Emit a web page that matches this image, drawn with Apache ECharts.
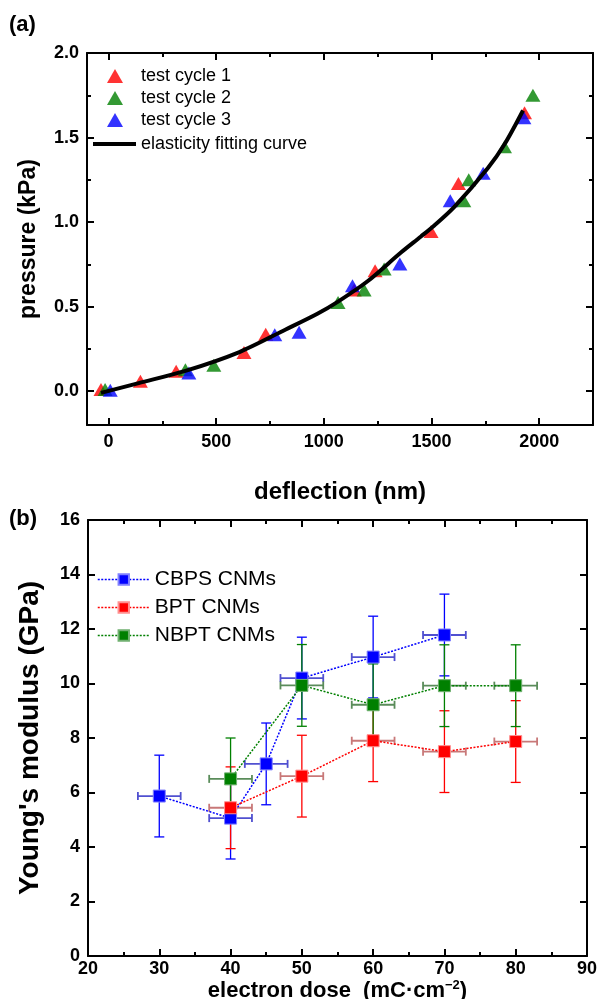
<!DOCTYPE html>
<html><head><meta charset="utf-8">
<script src="https://cdn.jsdelivr.net/npm/echarts@6/dist/echarts.min.js"></script>
<style>html,body{margin:0;padding:0;background:#fff}#c{width:597px;height:999px}</style>
</head><body><div id="c"></div>
<script>
// ---------- Panel (a) data ----------
const cycle1X = [-35, 148, 314, 629, 730, 1141, 1238, 1498, 1625, 1932];
const cycle1Y = [0.01, 0.059, 0.118, 0.229, 0.337, 0.598, 0.712, 0.945, 1.228, 1.647];
const cycle2X = [-16, 357, 489, 1066, 1187, 1280, 1650, 1673, 1839, 1971];
const cycle2Y = [0.01, 0.127, 0.153, 0.525, 0.598, 0.722, 1.126, 1.25, 1.446, 1.75];
const cycle3X = [8, 373, 772, 885, 1133, 1353, 1587, 1740, 1929];
const cycle3Y = [0.006, 0.108, 0.333, 0.348, 0.624, 0.752, 1.126, 1.289, 1.617];
const fitX = [-35, 140, 357, 605, 823, 970, 1066, 1203, 1358, 1451, 1513, 1606, 1762, 1839, 1925];
const fitY = [-0.01, 0.048, 0.12, 0.23, 0.365, 0.458, 0.53, 0.65, 0.82, 0.915, 0.98, 1.09, 1.32, 1.46, 1.66];
const aXTicks = [0, 500, 1000, 1500, 2000];
const aXMinor = [250, 750, 1250, 1750];
const aYTicks = [0, 0.5, 1.0, 1.5, 2.0];
const aYMinor = [0.25, 0.75, 1.25, 1.75];

// ---------- Panel (b) data ----------
const doseCBPS = [30, 40, 45, 50, 60, 70];
const modCBPS = [5.87, 5.06, 7.05, 10.2, 10.97, 11.78];
const yErrCBPS = [1.5, 1.5, 1.5, 1.5, 1.5, 1.5];
const xErrCBPS = [3, 3, 3, 3, 3, 3];
const doseBPT = [40, 50, 60, 70, 80];
const modBPT = [5.44, 6.6, 7.9, 7.5, 7.87];
const yErrBPT = [1.5, 1.5, 1.5, 1.5, 1.5];
const xErrBPT = [3, 3, 3, 3, 3];
const doseNBPT = [40, 50, 60, 70, 80];
const modNBPT = [6.5, 9.93, 9.22, 9.92, 9.92];
const yErrNBPT = [1.5, 1.5, 1.5, 1.5, 1.5];
const xErrNBPT = [3, 3, 3, 3, 3];

const FONT = 'Liberation Sans, Arial, sans-serif';
const zip = (a, b) => a.map((v, i) => [v, b[i]]);

const lbl = {show: true, color: '#000', fontFamily: FONT, fontWeight: 'bold', fontSize: 18, margin: 8};
const line = {show: true, onZero: false, lineStyle: {color: '#000', width: 2}};
function axis(pos, gridIndex, min, max, o) {
  const base = {
    type: 'value', gridIndex, position: pos, min, max,
    splitLine: {show: false},
    axisLine: line,
    axisTick: {show: true, inside: true, length: 7, lineStyle: {color: '#000', width: 2}},
    axisLabel: {show: false}
  };
  return Object.assign(base, o || {});
}
function minorAxis(pos, gridIndex, min, max, vals) {
  return axis(pos, gridIndex, min, max, {
    axisLine: {show: false, onZero: false},
    axisTick: {show: true, inside: true, length: 4, customValues: vals, lineStyle: {color: '#000', width: 2}},
    axisLabel: {show: false}
  });
}

const xAxes = [
  axis('bottom', 0, -100, 2250, {
    axisTick: {show: true, inside: true, length: 7, customValues: aXTicks, lineStyle: {color: '#000', width: 2}},
    axisLabel: Object.assign({}, lbl, {customValues: aXTicks, formatter: v => String(v)}),
    name: 'deflection (nm)', nameLocation: 'middle', nameGap: 55,
    nameTextStyle: {fontFamily: FONT, fontWeight: 'bold', fontSize: 24, color: '#000'}
  }),
  axis('top', 0, -100, 2250, {
    axisTick: {show: true, inside: true, length: 7, customValues: aXTicks, lineStyle: {color: '#000', width: 2}}
  }),
  minorAxis('bottom', 0, -100, 2250, aXMinor),
  minorAxis('top', 0, -100, 2250, aXMinor),
  axis('bottom', 1, 20, 90, {
    interval: 10,
    minorTick: {show: true, splitNumber: 2, length: 4, lineStyle: {color: '#000', width: 2}},
    axisLabel: Object.assign({}, lbl, {margin: 4}),
    name: 'electron dose  (mC·cm{sup|−2})', nameLocation: 'middle', nameGap: 17,
    nameTextStyle: {fontFamily: FONT, fontWeight: 'bold', fontSize: 22, color: '#000', lineHeight: 24,
      rich: {sup: {fontFamily: FONT, fontWeight: 'bold', fontSize: 13, color: '#000', verticalAlign: 'top', lineHeight: 24}}}
  }),
  axis('top', 1, 20, 90, {
    interval: 10,
    minorTick: {show: true, splitNumber: 2, length: 4, lineStyle: {color: '#000', width: 2}}
  })
];
const yAxes = [
  axis('left', 0, -0.2, 2.0, {
    axisTick: {show: true, inside: true, length: 7, customValues: aYTicks, lineStyle: {color: '#000', width: 2}},
    axisLabel: Object.assign({}, lbl, {customValues: aYTicks, formatter: v => v.toFixed(1)}),
    name: 'pressure (kPa)', nameLocation: 'middle', nameGap: 47,
    nameTextStyle: {fontFamily: FONT, fontWeight: 'bold', fontSize: 23, color: '#000'}
  }),
  axis('right', 0, -0.2, 2.0, {
    axisTick: {show: true, inside: true, length: 7, customValues: aYTicks, lineStyle: {color: '#000', width: 2}}
  }),
  minorAxis('left', 0, -0.2, 2.0, aYMinor),
  minorAxis('right', 0, -0.2, 2.0, aYMinor),
  axis('left', 1, 0, 16, {
    interval: 2,
    axisLabel: lbl,
    name: "Young's modulus (GPa)", nameLocation: 'middle', nameGap: 44,
    nameTextStyle: {fontFamily: FONT, fontWeight: 'bold', fontSize: 28, color: '#000'}
  }),
  axis('right', 1, 0, 16, {interval: 2})
];

function tri(name, xs, ys, color) {
  return {type: 'scatter', name, xAxisIndex: 0, yAxisIndex: 0, data: zip(xs, ys),
    symbol: 'triangle', symbolSize: [15, 13], itemStyle: {color}, z: 3};
}
function errBars(name, xs, ys, ex, ey, color, light) {
  return {
    type: 'custom', name, xAxisIndex: 4, yAxisIndex: 4, z: 2,
    data: xs.map((x, i) => [x, ys[i], ex[i], ey[i]]),
    encode: {x: 0, y: 1},
    renderItem: (params, api) => {
      const x = api.value(0), y = api.value(1), dx = api.value(2), dy = api.value(3);
      const c = api.coord([x, y]);
      const t = api.coord([x, y + dy]), b = api.coord([x, y - dy]);
      const l = api.coord([x - dx, y]), r = api.coord([x + dx, y]);
      const sv = {stroke: color, lineWidth: 1.3};
      const sh = {stroke: light, lineWidth: 1.8};
      return {type: 'group', children: [
        {type: 'line', shape: {x1: c[0], y1: t[1], x2: c[0], y2: b[1]}, style: sv},
        {type: 'line', shape: {x1: c[0] - 5, y1: t[1], x2: c[0] + 5, y2: t[1]}, style: sv},
        {type: 'line', shape: {x1: c[0] - 5, y1: b[1], x2: c[0] + 5, y2: b[1]}, style: sv},
        {type: 'line', shape: {x1: l[0], y1: c[1], x2: r[0], y2: c[1]}, style: sh},
        {type: 'line', shape: {x1: l[0], y1: c[1] - 4, x2: l[0], y2: c[1] + 4}, style: sh},
        {type: 'line', shape: {x1: r[0], y1: c[1] - 4, x2: r[0], y2: c[1] + 4}, style: sh}
      ]};
    }
  };
}
function sq(name, xs, ys, color, border, z) {
  return {type: 'line', name, xAxisIndex: 4, yAxisIndex: 4, data: zip(xs, ys),
    symbol: 'rect', symbolSize: 12, showSymbol: true, z,
    itemStyle: {color, borderColor: border, borderWidth: 1},
    lineStyle: {color, width: 1.5, type: [2, 1.5]}};
}

const legendText = {fontFamily: FONT, fontSize: 18, lineHeight: 18, color: '#000'};
const option = {
  animation: false,
  backgroundColor: '#fff',
  title: [
    {text: '(a)', left: 9, top: 14, padding: 0, textStyle: {fontFamily: FONT, fontWeight: 'bold', fontSize: 22, color: '#000'}},
    {text: '(b)', left: 9, top: 508, padding: 0, textStyle: {fontFamily: FONT, fontWeight: 'bold', fontSize: 22, color: '#000'}}
  ],
  grid: [
    {left: 87, top: 53, width: 506, height: 372, containLabel: false, outerBoundsMode: 'none'},
    {left: 88, top: 520, width: 499, height: 436, containLabel: false, outerBoundsMode: 'none'}
  ],
  xAxis: xAxes,
  yAxis: yAxes,
  legend: [
    {data: [{name: 'test cycle 1', icon: 'triangle'}, {name: 'test cycle 2', icon: 'triangle'}, {name: 'test cycle 3', icon: 'triangle'}],
      orient: 'vertical', left: 107, top: 67,
      itemWidth: 16, itemHeight: 14, itemGap: 4, padding: 0,
      textStyle: Object.assign({}, legendText, {padding: [0, 0, 0, 13]})},
    {data: [{name: 'elasticity fitting curve', icon: 'rect'}], orient: 'vertical', left: 93, top: 135,
      itemWidth: 43, itemHeight: 4, padding: 0, itemStyle: {color: '#000'},
      textStyle: legendText},
    {data: ['CBPS CNMs', 'BPT CNMs', 'NBPT CNMs'], orient: 'vertical', left: 97, top: 569,
      itemWidth: 52, itemHeight: 13, itemGap: 7, padding: 0,
      lineStyle: {width: 1.5},
      textStyle: {fontFamily: FONT, fontSize: 21, lineHeight: 21, color: '#000'}}
  ],
  series: [
    tri('test cycle 1', cycle1X, cycle1Y, '#ff0000'),
    tri('test cycle 2', cycle2X, cycle2Y, '#008000'),
    tri('test cycle 3', cycle3X, cycle3Y, '#0000ff'),
    {type: 'line', name: 'elasticity fitting curve', xAxisIndex: 0, yAxisIndex: 0,
      data: zip(fitX, fitY), smooth: 0.3, symbol: 'none', showSymbol: false, z: 5,
      itemStyle: {color: '#000'}, lineStyle: {color: '#000', width: 4}},
    errBars('CBPS err', doseCBPS, modCBPS, xErrCBPS, yErrCBPS, '#0000ff', '#5050d0'),
    errBars('BPT err', doseBPT, modBPT, xErrBPT, yErrBPT, '#ff0000', '#c87878'),
    errBars('NBPT err', doseNBPT, modNBPT, xErrNBPT, yErrNBPT, '#008000', '#5a8c5a'),
    sq('CBPS CNMs', doseCBPS, modCBPS, '#0000ff', '#8080ff', 4),
    sq('BPT CNMs', doseBPT, modBPT, '#ff0000', '#ff9090', 5),
    sq('NBPT CNMs', doseNBPT, modNBPT, '#008000', '#70b070', 6)
  ]
};
const chart = echarts.init(document.getElementById('c'), null, {renderer: 'canvas'});
chart.setOption(option);
</script></body></html>
